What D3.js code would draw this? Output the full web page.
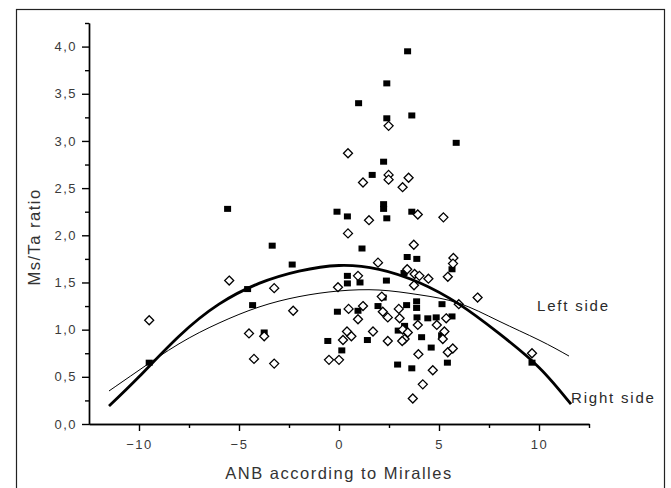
<!DOCTYPE html>
<html>
<head>
<meta charset="utf-8">
<script src="https://cdn.jsdelivr.net/npm/d3@7"></script>
<style>
  body { margin: 0; background: #fff; }
  svg { display: block; }
</style>
</head>
<body>
<div id="chart"></div>
<script>
// Ms/Ta ratio vs ANB (Miralles): two sides, scatter + fitted curves.

// Filled squares
const squareX = [3.43, 2.39, 0.98, 2.39, 3.64, 5.86, 2.23, 1.66, -5.57, -0.1, 0.42, 2.23, 2.23, 2.39, 3.64,
  1.15, -3.34, -2.34, 3.41, 3.89, 5.65, 0.42, 0.42, 1.05, 2.37, 3.25, 2.21, -4.57, -4.32,
  -0.08, 0.95, 1.95, 3.38, 3.88, 3.88, 5.15, 3.9, 4.44, 4.86, 5.65,
  3.28, 2.96, 5.13, 4.13, -0.56, 1.42, 0.14, -3.74, 4.61, 5.42, 2.93, 3.64, -9.49, 9.65];
const squareY = [3.95, 3.61, 3.40, 3.24, 3.27, 2.98, 2.78, 2.64, 2.28, 2.25, 2.20, 2.33, 2.28, 2.18, 2.25,
  1.86, 1.89, 1.69, 1.77, 1.75, 1.64, 1.57, 1.49, 1.50, 1.52, 1.60, 1.34, 1.43, 1.26,
  1.19, 1.20, 1.25, 1.26, 1.30, 1.23, 1.27, 1.13, 1.12, 1.13, 1.14,
  1.04, 0.99, 0.94, 0.92, 0.88, 0.89, 0.78, 0.97, 0.81, 0.65, 0.63, 0.59, 0.65, 0.65];

// Open diamonds
const diamondX = [2.48, 0.45, 1.2, 2.48, 2.48, 3.48, 3.18, 1.5, 3.94, 5.22, 0.45, 3.74, 1.95, 0.95,
  5.72, 5.70, 5.44, 3.41, 3.78, 4.02, 4.47, 3.75, -0.05, 2.14, 6.93, -5.49, -3.24, -2.29, -9.49,
  -4.5, -3.74, -4.25, -3.24, -0.5, 0.0, 9.65, 0.48, 1.2, 0.95, 2.19, 2.44, 2.99, 3.03, 3.94,
  4.89, 5.36, 5.99, 3.19, 3.44, 5.27, 3.28, 5.19, 2.44, 0.4, 0.62, 0.2, 1.7, 3.97, 5.44, 5.69,
  4.69, 4.19, 3.69, 3.16];
const diamondY = [3.16, 2.87, 2.56, 2.64, 2.59, 2.61, 2.51, 2.16, 2.22, 2.19, 2.02, 1.90, 1.71, 1.57,
  1.76, 1.70, 1.56, 1.64, 1.59, 1.57, 1.54, 1.47, 1.45, 1.35, 1.34, 1.52, 1.44, 1.20, 1.10,
  0.96, 0.93, 0.69, 0.64, 0.68, 0.68, 0.75, 1.22, 1.25, 1.11, 1.19, 1.13, 1.22, 1.12, 1.05,
  1.05, 1.12, 1.27, 1.00, 0.97, 0.98, 0.90, 0.90, 0.88, 0.98, 0.93, 0.89, 0.98, 0.74, 0.76, 0.80,
  0.57, 0.42, 0.27, 0.88];

// Fitted curves (values read at these x positions)
const rightCurveX = [-11.5, -10, -8, -6, -4, -2, 0, 2, 4, 6, 8, 10, 11.6];
const rightCurveY = [0.19, 0.50, 0.93, 1.27, 1.49, 1.62, 1.68, 1.64, 1.50, 1.27, 0.96, 0.60, 0.21];
const leftCurveX = [-11.5, -10, -8, -6, -4, -2, 0, 2, 4, 6, 8, 10, 11.5];
const leftCurveY = [0.35, 0.57, 0.85, 1.07, 1.24, 1.35, 1.41, 1.42, 1.37, 1.28, 1.09, 0.89, 0.72];

const labelText = ["Left side", "Right side"];
const labelX = [9.9, 11.6];
const labelY = [1.2, 0.22];

const xMajor = [-10, -5, 0, 5, 10];
const xMinor = [-7.5, -2.5, 2.5, 7.5, 12.5];
const yMajor = [0, 0.5, 1, 1.5, 2, 2.5, 3, 3.5, 4];
const yMinor = [0.25, 0.75, 1.25, 1.75, 2.25, 2.75, 3.25, 3.75, 4.25];

const width = 671, height = 488;
const font = "'Liberation Sans', Arial, sans-serif";

const svg = d3.select("#chart").append("svg")
  .attr("width", width).attr("height", height)
  .style("font-family", font);

svg.append("rect").attr("width", width).attr("height", height).attr("fill", "#fff");

// outer frame (bottom edge runs off the picture)
svg.append("rect")
  .attr("x", 16.5).attr("y", 9.5).attr("width", 648).attr("height", 490)
  .attr("fill", "none").attr("stroke", "#222").attr("stroke-width", 1.2);

const x = d3.scaleLinear().domain([-12.5, 12.5]).range([89, 589]);
const y = d3.scaleLinear().domain([0, 4.25]).range([424, 23]);

const comma = d => d3.format(".1f")(d).replace(".", ",");

function styleAxis(g) {
  g.selectAll("path, line").attr("stroke", "#000").attr("stroke-width", 1.4);
  g.selectAll("text")
    .attr("font-size", 13).attr("fill", "#3a3a3a")
    .style("letter-spacing", "1.5px").attr("font-family", font);
}

// x axis
svg.append("g").attr("transform", `translate(0,${y(0)})`)
  .call(d3.axisBottom(x).tickValues(xMinor).tickSize(4).tickSizeOuter(0).tickFormat(""))
  .call(styleAxis);
svg.append("g").attr("transform", `translate(0,${y(0)})`)
  .call(d3.axisBottom(x).tickValues(xMajor).tickSize(7).tickSizeOuter(0).tickPadding(9))
  .call(styleAxis);

// y axis
svg.append("g").attr("transform", `translate(${x(-12.5)},0)`)
  .call(d3.axisLeft(y).tickValues(yMinor).tickSize(4).tickSizeOuter(0).tickFormat(""))
  .call(styleAxis);
svg.append("g").attr("transform", `translate(${x(-12.5)},0)`)
  .call(d3.axisLeft(y).tickValues(yMajor).tickSize(7).tickSizeOuter(0).tickPadding(5).tickFormat(comma))
  .call(styleAxis);

// axis titles
svg.append("text")
  .attr("x", (x(-12.5) + x(12.5)) / 2).attr("y", 479)
  .attr("text-anchor", "middle").attr("font-size", 16.5).attr("fill", "#333")
  .style("letter-spacing", "1.5px")
  .text("ANB according to Miralles");
svg.append("text")
  .attr("transform", "translate(40,237) rotate(-90)")
  .attr("text-anchor", "middle").attr("font-size", 16.5).attr("fill", "#333")
  .style("letter-spacing", "1.5px")
  .text("Ms/Ta ratio");

// points
const squares = squareX.map((v, i) => [v, squareY[i]]);
const diamonds = diamondX.map((v, i) => [v, diamondY[i]]);

svg.append("g").selectAll("rect").data(squares).join("rect")
  .attr("x", d => x(d[0]) - 3.5).attr("y", d => y(d[1]) - 3)
  .attr("width", 7).attr("height", 6)
  .attr("fill", "#000");

svg.append("g").selectAll("path").data(diamonds).join("path")
  .attr("transform", d => `translate(${x(d[0])},${y(d[1])})`)
  .attr("d", "M0,-4.5L4.5,0L0,4.5L-4.5,0Z")
  .attr("fill", "#fff").attr("stroke", "#000").attr("stroke-width", 1.3);

// curves
const line = d3.line().x(d => x(d[0])).y(d => y(d[1])).curve(d3.curveNatural);
svg.append("path")
  .datum(leftCurveX.map((v, i) => [v, leftCurveY[i]]))
  .attr("d", line).attr("fill", "none").attr("stroke", "#000").attr("stroke-width", 1);
svg.append("path")
  .datum(rightCurveX.map((v, i) => [v, rightCurveY[i]]))
  .attr("d", line).attr("fill", "none").attr("stroke", "#000").attr("stroke-width", 2.8);

// curve labels
svg.append("g").selectAll("text").data(labelText).join("text")
  .attr("x", (d, i) => x(labelX[i])).attr("y", (d, i) => y(labelY[i]))
  .attr("font-size", 15).attr("fill", "#2a2a2a")
  .style("letter-spacing", "1.8px")
  .text(d => d);
</script>
</body>
</html>
